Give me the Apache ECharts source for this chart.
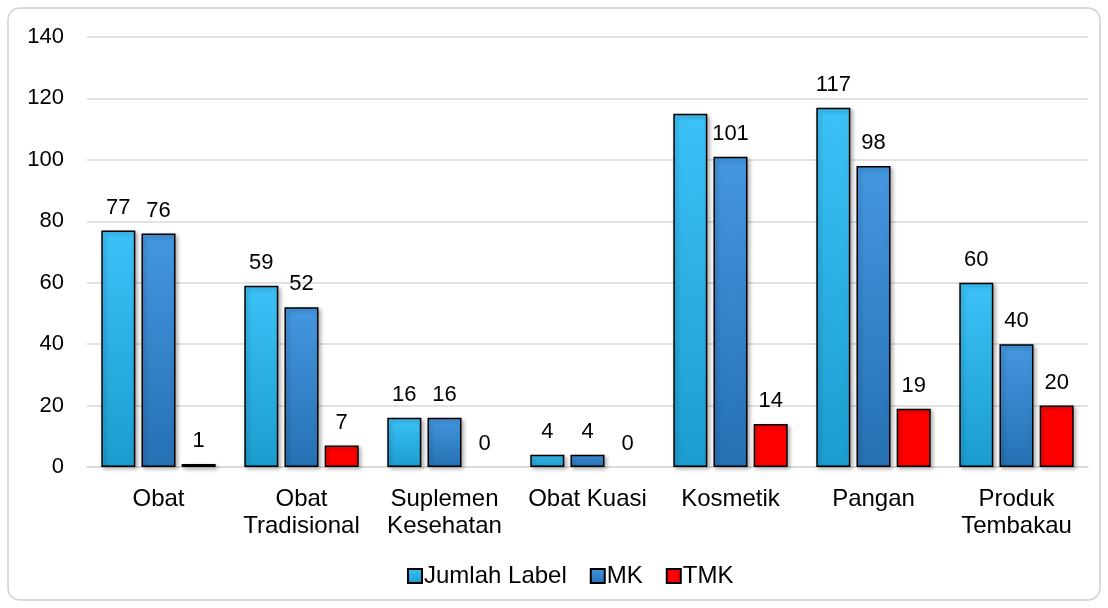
<!DOCTYPE html>
<html>
<head>
<meta charset="utf-8">
<script src="https://cdn.jsdelivr.net/npm/echarts@6/dist/echarts.min.js"></script>
<style>
  html, body { margin: 0; padding: 0; background: #fff; }
  #chart { width: 1108px; height: 608px; }
</style>
</head>
<body>
<div id="chart"></div>
<script>
const categories = ["Obat", "Obat\nTradisional", "Suplemen\nKesehatan", "Obat Kuasi", "Kosmetik", "Pangan", "Produk\nTembakau"];
const jumlahLabel = [77, 59, 16, 4, 115, 117, 60];
const mk = [76, 52, 16, 4, 101, 98, 40];
const tmk = [1, 7, 0, 0, 14, 19, 20];
// the source chart shows no value label above the Kosmetik "Jumlah Label" bar
const hiddenLabels = { "Jumlah Label": [4] };
const yTicks = { min: 0, max: 140, interval: 20 };

const font = "Liberation Sans, Arial, sans-serif";

const chart = echarts.init(document.getElementById("chart"));

// gradient helper for the blue bars
const grad = (top, bottom) => new echarts.graphic.LinearGradient(0, 0, 0, 1, [
  { offset: 0, color: top },
  { offset: 1, color: bottom },
]);

const barStyle = (color) => ({
  color: color,
  borderColor: "#000",
  borderWidth: 1.5,
  shadowBlur: 4,
  shadowColor: "rgba(0,0,0,0.3)",
  shadowOffsetX: 2,
  shadowOffsetY: 2,
});

const labelStyle = {
  show: true,
  position: "top",
  distance: 12,
  color: "#000",
  fontSize: 22,
  fontFamily: font,
};

// zero bars draw nothing, hidden labels are switched off per item
const toItems = (name, values) => values.map((v, i) => {
  const item = { value: v };
  if (v === 0) item.itemStyle = { borderWidth: 0, shadowBlur: 0, shadowColor: "transparent" };
  if ((hiddenLabels[name] || []).includes(i)) item.label = { show: false };
  return item;
});

chart.setOption({
  animation: false,
  textStyle: { fontFamily: font },
  graphic: [
    {
      type: "rect",
      shape: { x: 8, y: 8, width: 1092, height: 592, r: 12 },
      style: { fill: "none", stroke: "#d0d0d0", lineWidth: 1.5 },
      z: -1,
    },
  ],
  legend: {
    bottom: 15,
    left: 402,
    icon: "rect",
    itemWidth: 14,
    itemHeight: 14,
    itemGap: 23,
    textStyle: { fontSize: 24, color: "#000", fontFamily: font, padding: [0, 0, 0, -3] },
    data: ["Jumlah Label", "MK", "TMK"],
  },
  grid: {
    left: 87,
    right: 20,
    top: 37,
    bottom: 141,
  },
  xAxis: {
    type: "category",
    data: categories,
    axisLine: { lineStyle: { color: "#d9d9d9", width: 1.5 } },
    axisTick: { show: false },
    axisLabel: {
      color: "#000",
      fontSize: 24,
      fontFamily: font,
      lineHeight: 27,
      margin: 19,
      interval: 0,
    },
  },
  yAxis: {
    type: "value",
    min: yTicks.min,
    max: yTicks.max,
    interval: yTicks.interval,
    axisLine: { show: false },
    axisTick: { show: false },
    splitLine: { lineStyle: { color: "#d9d9d9", width: 1.5 } },
    axisLabel: { color: "#000", fontSize: 22, fontFamily: font, margin: 23 },
  },
  series: [
    {
      name: "Jumlah Label",
      type: "bar",
      data: toItems("Jumlah Label", jumlahLabel),
      barGap: "18%",
      barCategoryGap: "20%",
      itemStyle: barStyle(grad("#3cc2f7", "#1b9ccf")),
      label: labelStyle,
    },
    {
      name: "MK",
      type: "bar",
      data: toItems("MK", mk),
      itemStyle: barStyle(grad("#4497e0", "#2670b3")),
      label: labelStyle,
    },
    {
      name: "TMK",
      type: "bar",
      data: toItems("TMK", tmk),
      itemStyle: barStyle("#ff0000"),
      label: labelStyle,
    },
  ],
});
</script>
</body>
</html>
